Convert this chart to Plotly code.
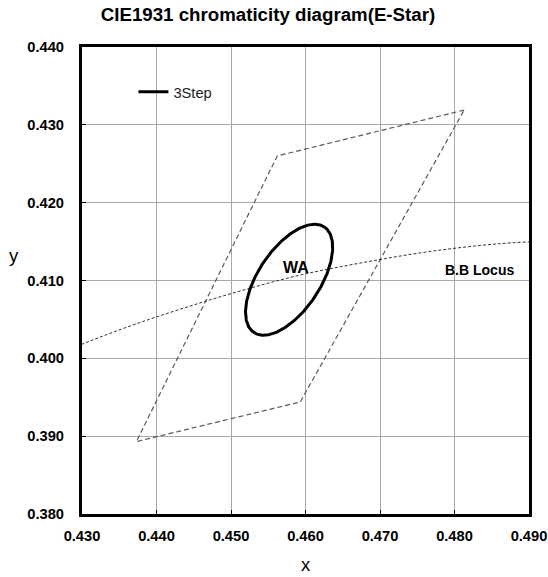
import numpy as np
import plotly.graph_objects as go

# ANSI C78.377 2700 K quadrangle corners (CIE 1931 x, y), closed loop
quad_x = [0.4813, 0.4562, 0.4373, 0.4593, 0.4813]
quad_y = [0.4319, 0.4260, 0.3893, 0.3944, 0.4319]

# Planckian (black-body) locus samples, CCT in kelvin
bb_cct = [3300, 3200, 3100, 3000, 2900, 2800, 2700, 2600, 2500, 2400, 2300]
bb_x = [0.4170, 0.4232, 0.4297, 0.4366, 0.4438, 0.4514, 0.4593, 0.4677, 0.4765, 0.4857, 0.4953]
bb_y = [0.3964, 0.3991, 0.4017, 0.4042, 0.4065, 0.4087, 0.4107, 0.4123, 0.4137, 0.4147, 0.4152]

# 3-step MacAdam ellipse for the WA bin
ell_center = (0.4578, 0.4101)
ell_a = 0.00827
ell_b = 0.00409
ell_theta_deg = 54.4

x_ticks = [0.43, 0.44, 0.45, 0.46, 0.47, 0.48, 0.49]
y_ticks = [0.38, 0.39, 0.40, 0.41, 0.42, 0.43, 0.44]

t = np.linspace(0, 2 * np.pi, 361)
th = np.deg2rad(ell_theta_deg)
ell_x = ell_center[0] + ell_a * np.cos(t) * np.cos(th) - ell_b * np.sin(t) * np.sin(th)
ell_y = ell_center[1] + ell_a * np.cos(t) * np.sin(th) + ell_b * np.sin(t) * np.cos(th)

FONT = "Arial, Liberation Sans, sans-serif"

fig = go.Figure()
fig.add_trace(go.Scatter(
    x=quad_x, y=quad_y, mode="lines", showlegend=False, hoverinfo="skip",
    line=dict(color="#5a5a5a", width=1.2, dash="5px,3px"),
))
fig.add_trace(go.Scatter(
    x=bb_x, y=bb_y, mode="lines", showlegend=False, hoverinfo="skip",
    line=dict(color="#333333", width=1, dash="3px,2px", shape="spline"),
))
fig.add_trace(go.Scatter(
    x=ell_x, y=ell_y, mode="lines", name="3Step",
    line=dict(color="#000000", width=3),
))

fig.add_annotation(x=0.4587, y=0.4117, text="<b>WA</b>", showarrow=False,
                   font=dict(family=FONT, size=16, color="#000000"))
fig.add_annotation(x=0.4833, y=0.4113, text="<b>B.B Locus</b>", showarrow=False,
                   font=dict(family=FONT, size=14, color="#000000"))
fig.add_annotation(xref="paper", yref="paper", x=-0.167, y=0.553, text="y",
                   showarrow=False, font=dict(family=FONT, size=18.5, color="#000000"))

axis_common = dict(
    showgrid=True, gridcolor="#a8a8a8", gridwidth=1,
    showline=True, linecolor="#000000", linewidth=3, mirror=True,
    ticks="inside", ticklen=4, tickcolor="#000000", tickwidth=1,
    tickformat=".3f", zeroline=False, automargin=False,
    tickfont=dict(family=FONT, size=14.7, color="#000000", weight="bold"),
)

fig.update_layout(
    width=548, height=577,
    margin=dict(l=82, r=19, t=47, b=63),
    paper_bgcolor="white", plot_bgcolor="white",
    title=dict(text="<b>CIE1931 chromaticity diagram(E-Star)</b>",
               x=0.489, xref="container", xanchor="center",
               y=0.975, yref="container", yanchor="middle",
               font=dict(family=FONT, size=18.7, color="#000000")),
    xaxis=dict(range=[0.43, 0.49], tickvals=x_ticks, ticklabelstandoff=6,
               title=dict(text="x", font=dict(family=FONT, size=18.5, color="#000000"),
                          standoff=16),
               **axis_common),
    yaxis=dict(range=[0.38, 0.44], tickvals=y_ticks, ticklabelstandoff=12,
               **axis_common),
    legend=dict(x=0.115, y=0.903, xanchor="left", yanchor="middle",
                bgcolor="rgba(0,0,0,0)", borderwidth=0,
                font=dict(family=FONT, size=14.7, color="#222222")),
    showlegend=True,
)

fig.write_html("out.html")
